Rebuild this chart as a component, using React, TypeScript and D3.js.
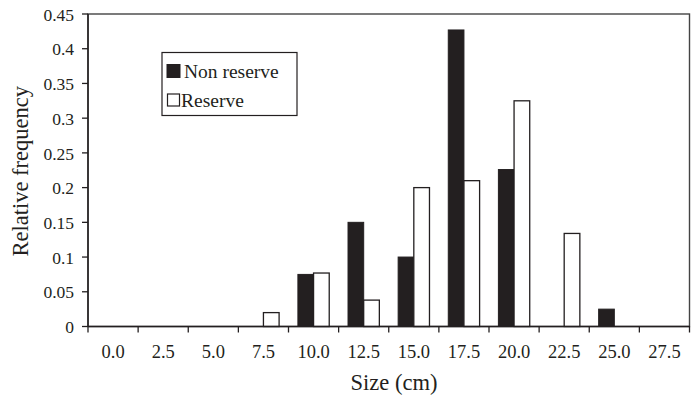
import React from "react";
import * as d3 from "d3";

const categories = ["0.0", "2.5", "5.0", "7.5", "10.0", "12.5", "15.0", "17.5", "20.0", "22.5", "25.0", "27.5"];
const nonReserve = [0, 0, 0, 0, 0.075, 0.15, 0.1, 0.427, 0.226, 0, 0.025, 0];
const reserve = [0, 0, 0, 0.02, 0.077, 0.038, 0.2, 0.21, 0.325, 0.134, 0, 0];
const yTicks = [0, 0.05, 0.1, 0.15, 0.2, 0.25, 0.3, 0.35, 0.4, 0.45];
const seriesNames = ["Non reserve", "Reserve"];

const W = 694, H = 403;
const M = { left: 88, right: 4, top: 14, bottom: 77 };
const FONT = "'Liberation Serif', 'DejaVu Serif', serif";
const INK = "#231f20";

export default function App() {
  const x = d3.scaleBand<string>().domain(categories).range([M.left, W - M.right - 0.5]).paddingInner(0).paddingOuter(0);
  const inner = d3.scaleBand<string>().domain(seriesNames).range([0, x.bandwidth()]).paddingInner(0).paddingOuter(0.6);
  const y = d3.scaleLinear().domain([0, 0.45]).range([H - M.bottom + 0.5, M.top]);
  const y0 = y(0);
  const fmt = (v: number) => (v === 0 ? "0" : String(+v.toFixed(2)));

  return (
    <svg width={W} height={H} style={{ display: "block", position: "absolute", left: 0, top: 0, background: "#fff", fontFamily: FONT }}>
      <rect x={M.left} y={M.top} width={W - M.right - 0.5 - M.left} height={y0 - M.top} fill="none" stroke="#444" strokeWidth={1.4} />
      {categories.map((c, i) => (
        <g key={c}>
          {nonReserve[i] > 0 && (
            <rect x={x(c)! + inner("Non reserve")!} y={y(nonReserve[i])} width={inner.bandwidth()} height={y0 - y(nonReserve[i])} fill={INK} stroke={INK} strokeWidth={1} />
          )}
          {reserve[i] > 0 && (
            <rect x={x(c)! + inner("Reserve")!} y={y(reserve[i])} width={inner.bandwidth()} height={y0 - y(reserve[i])} fill="#fff" stroke={INK} strokeWidth={1.3} />
          )}
        </g>
      ))}
      <line x1={M.left} x2={M.left} y1={M.top} y2={y0} stroke={INK} strokeWidth={1.5} />
      <line x1={M.left} x2={W - M.right} y1={y0} y2={y0} stroke={INK} strokeWidth={1.5} />
      {yTicks.map((t) => (
        <g key={t}>
          <line x1={M.left - 6} x2={M.left} y1={y(t)} y2={y(t)} stroke={INK} strokeWidth={1.3} />
          <text x={M.left - 14} y={y(t)} dy="0.38em" textAnchor="end" fontSize={17.5} fill={INK}>{fmt(t)}</text>
        </g>
      ))}
      {categories.map((c) => (
        <line key={"t" + c} x1={x(c)!} x2={x(c)!} y1={y0} y2={y0 + 6} stroke={INK} strokeWidth={1.3} />
      ))}
      <line x1={W - M.right - 0.5} x2={W - M.right - 0.5} y1={y0} y2={y0 + 6} stroke={INK} strokeWidth={1.3} />
      {categories.map((c) => (
        <text key={"l" + c} x={x(c)! + x.bandwidth() / 2} y={358} textAnchor="middle" fontSize={18.5} fill={INK}>{c}</text>
      ))}
      <text x={(M.left + W - M.right) / 2 + 5} y={390} textAnchor="middle" fontSize={22.5} fill={INK}>Size (cm)</text>
      <text transform={`translate(28, ${(M.top + y0) / 2 + 1}) rotate(-90)`} textAnchor="middle" fontSize={22.5} fill={INK}>Relative frequency</text>
      <rect x={162} y={52.5} width={135} height={63} fill="#fff" stroke={INK} strokeWidth={1.2} />
      <rect x={167} y={64.5} width={13} height={13} fill={INK} stroke={INK} strokeWidth={1} />
      <text x={184} y={77.5} fontSize={19.5} fill={INK}>{seriesNames[0]}</text>
      <rect x={167.5} y={94} width={12} height={12} fill="#fff" stroke={INK} strokeWidth={1.2} />
      <text x={181} y={107} fontSize={19.5} fill={INK}>{seriesNames[1]}</text>
    </svg>
  );
}
